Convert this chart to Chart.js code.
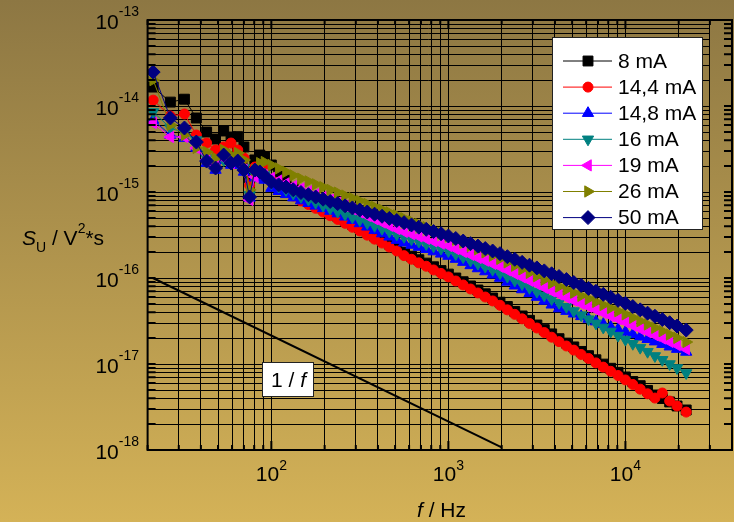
<!DOCTYPE html>
<html>
<head>
<meta charset="utf-8">
<script src="https://cdn.jsdelivr.net/npm/chart.js@4.4.1/dist/chart.umd.min.js"></script>
<style>
  html, body { margin: 0; padding: 0; overflow: hidden; }
  body { width: 734px; height: 522px; background: linear-gradient(to bottom, #8d7743 0%, #d4b257 100%); }
  #wrap { position: relative; width: 740px; height: 522px; }
</style>
</head>
<body>
<div id="wrap"><canvas id="c" width="740" height="522"></canvas></div>
<script>
// noise spectra S_U(f) for several bias currents
const freqHz = [21.5, 26.9, 32.3, 37.7, 43.1, 48.4, 53.8, 59.2, 64.6, 70.0, 75.4, 80.7, 86.1, 91.5,
  100, 110, 121, 133, 147, 162, 178, 196, 215, 237, 261, 287, 316, 348, 383, 422, 464, 511, 562, 619, 681, 750, 825, 909,
  1000, 1101, 1212, 1334, 1468, 1616, 1778, 1957, 2154, 2371, 2610, 2873, 3162, 3481, 3831, 4217, 4642, 5109, 5623, 6190, 6813, 7499, 8254, 9085,
  10000, 11010, 12120, 13340, 14680, 16160, 17780, 19570, 22050];

const s8mA = [1.66e-14, 1.11e-14, 1.2e-14, 7.25e-15, 4.98e-15, 4.13e-15, 5.12e-15, 4.36e-15, 4.4e-15, 3.34e-15, 1.46e-15, 2.36e-15, 2.69e-15, 2.55e-15,
  2.06e-15, 1.71e-15, 1.38e-15, 1.11e-15, 9.23e-16, 8.08e-16, 7.2e-16, 6.43e-16, 5.78e-16, 5.22e-16, 4.69e-16, 4.21e-16, 3.82e-16, 3.41e-16, 3.07e-16, 2.79e-16, 2.48e-16, 2.23e-16,
  1.99e-16, 1.79e-16, 1.63e-16, 1.49e-16, 1.35e-16, 1.22e-16, 1.11e-16, 1.0e-16, 9.05e-17, 8.08e-17, 7.25e-17, 6.55e-17, 5.85e-17, 5.23e-17, 4.66e-17, 4.09e-17,
  3.62e-17, 3.22e-17, 2.84e-17, 2.51e-17, 2.24e-17, 1.97e-17, 1.75e-17, 1.58e-17, 1.4e-17, 1.25e-17, 1.12e-17, 9.97e-18, 8.92e-18, 8.0e-18, 7.07e-18, 6.25e-18,
  5.6e-18, 4.93e-18, 4.36e-18, 3.97e-18, 3.62e-18, 3.25e-18, 2.92e-18];

const s14_4mA = [1.17e-14, 7.65e-15, 8.08e-15, 4.6e-15, 3.71e-15, 3.08e-15, 3.34e-15, 3.71e-15, 3.08e-15, 2.48e-15, 1.2e-15, 1.95e-15, 2.06e-15, 1.9e-15,
  1.38e-15, 1.17e-15, 1.01e-15, 8.99e-16, 7.88e-16, 7.14e-16, 6.46e-16, 5.85e-16, 5.3e-16, 4.8e-16, 4.32e-16, 3.89e-16, 3.52e-16, 3.15e-16, 2.83e-16, 2.55e-16, 2.29e-16, 2.06e-16,
  1.82e-16, 1.65e-16, 1.5e-16, 1.37e-16, 1.24e-16, 1.13e-16, 1.03e-16, 9.23e-17, 8.3e-17, 7.45e-17, 6.7e-17, 6.01e-17, 5.41e-17, 4.82e-17, 4.26e-17, 3.78e-17,
  3.35e-17, 2.96e-17, 2.62e-17, 2.32e-17, 2.05e-17, 1.82e-17, 1.62e-17, 1.45e-17, 1.29e-17, 1.16e-17, 1.03e-17, 9.2e-18, 8.23e-18, 7.35e-18, 6.53e-18, 5.78e-18,
  5.1e-18, 4.5e-18, 4.02e-18, 4.6e-18, 3.71e-18, 3.25e-18, 2.76e-18];

const s14_8mA = [6.87e-15, 4.6e-15, 4.24e-15, 3.25e-15, 2.17e-15, 1.8e-15, 2.36e-15, 2.06e-15, 2.06e-15, 1.71e-15, 8.52e-16, 1.46e-15, 1.54e-15, 1.38e-15,
  1.11e-15, 1.02e-15, 9.4e-16, 8.6e-16, 7.94e-16, 7.4e-16, 6.9e-16, 6.45e-16, 6.01e-16, 5.61e-16, 5.15e-16, 4.71e-16, 4.31e-16, 3.94e-16, 3.6e-16, 3.29e-16, 3.01e-16, 2.76e-16,
  2.57e-16, 2.42e-16, 2.29e-16, 2.16e-16, 2.03e-16, 1.91e-16, 1.8e-16, 1.66e-16, 1.53e-16, 1.4e-16, 1.29e-16, 1.19e-16, 1.09e-16, 1.0e-16, 9.0e-17, 8.13e-17,
  7.35e-17, 6.64e-17, 6.0e-17, 5.41e-17, 4.88e-17, 4.42e-17, 4.12e-17, 3.84e-17, 3.58e-17, 3.34e-17, 3.11e-17, 2.9e-17, 2.7e-17, 2.52e-17, 2.36e-17, 2.21e-17,
  2.07e-17, 1.94e-17, 1.82e-17, 1.7e-17, 1.59e-17, 1.49e-17, 1.38e-17];

const s16mA = [8.52e-15, 5.55e-15, 4.85e-15, 4.02e-15, 2.48e-15, 2.23e-15, 2.36e-15, 2.17e-15, 2.36e-15, 1.9e-15, 9.23e-16, 1.58e-15, 1.71e-15, 1.58e-15,
  1.27e-15, 1.16e-15, 1.06e-15, 9.6e-16, 8.82e-16, 8.16e-16, 7.53e-16, 6.94e-16, 6.43e-16, 5.93e-16, 5.5e-16, 5.1e-16, 4.72e-16, 4.37e-16, 4.05e-16, 3.75e-16, 3.48e-16, 3.22e-16,
  3.02e-16, 2.83e-16, 2.66e-16, 2.49e-16, 2.34e-16, 2.2e-16, 2.06e-16, 1.9e-16, 1.75e-16, 1.6e-16, 1.47e-16, 1.36e-16, 1.25e-16, 1.14e-16, 1.04e-16, 9.38e-17,
  8.5e-17, 7.69e-17, 6.96e-17, 6.29e-17, 5.7e-17, 5.16e-17, 4.63e-17, 4.13e-17, 3.7e-17, 3.32e-17, 2.97e-17, 2.66e-17, 2.39e-17, 2.14e-17, 1.92e-17, 1.72e-17,
  1.55e-17, 1.39e-17, 1.24e-17, 1.12e-17, 1.0e-17, 8.99e-18, 7.86e-18];

const s19mA = [6.34e-15, 4.36e-15, 4.36e-15, 3.25e-15, 2.36e-15, 2.06e-15, 2.48e-15, 2.17e-15, 2.23e-15, 1.8e-15, 8.08e-16, 1.5e-15, 1.66e-15, 1.58e-15,
  1.46e-15, 1.36e-15, 1.26e-15, 1.17e-15, 1.1e-15, 1.02e-15, 9.42e-16, 8.75e-16, 8.13e-16, 7.53e-16, 6.9e-16, 6.32e-16, 5.78e-16, 5.28e-16, 4.84e-16, 4.42e-16, 4.05e-16, 3.7e-16,
  3.44e-16, 3.23e-16, 3.04e-16, 2.85e-16, 2.67e-16, 2.51e-16, 2.36e-16, 2.17e-16, 2.01e-16, 1.86e-16, 1.71e-16, 1.59e-16, 1.46e-16, 1.35e-16, 1.23e-16, 1.12e-16,
  1.02e-16, 9.3e-17, 8.48e-17, 7.7e-17, 7.02e-17, 6.43e-17, 5.91e-17, 5.45e-17, 5.01e-17, 4.63e-17, 4.26e-17, 3.92e-17, 3.6e-17, 3.32e-17, 3.06e-17, 2.8e-17,
  2.56e-17, 2.35e-17, 2.16e-17, 1.98e-17, 1.81e-17, 1.66e-17, 1.49e-17];

const s26mA = [2.0e-14, 6.01e-15, 4.6e-15, 3.25e-15, 2.92e-15, 2.48e-15, 3.08e-15, 2.69e-15, 2.84e-15, 2.36e-15, 1.06e-15, 1.8e-15, 2.17e-15, 2.23e-15,
  2.06e-15, 1.88e-15, 1.71e-15, 1.56e-15, 1.43e-15, 1.33e-15, 1.23e-15, 1.14e-15, 1.06e-15, 9.84e-16, 9.1e-16, 8.48e-16, 7.86e-16, 7.27e-16, 6.74e-16, 6.23e-16, 5.79e-16, 5.36e-16,
  4.95e-16, 4.58e-16, 4.22e-16, 3.9e-16, 3.6e-16, 3.34e-16, 3.08e-16, 2.82e-16, 2.59e-16, 2.37e-16, 2.17e-16, 1.99e-16, 1.82e-16, 1.67e-16, 1.52e-16, 1.39e-16,
  1.26e-16, 1.15e-16, 1.05e-16, 9.54e-17, 8.7e-17, 7.95e-17, 7.33e-17, 6.74e-17, 6.2e-17, 5.72e-17, 5.27e-17, 4.85e-17, 4.47e-17, 4.11e-17, 3.78e-17, 3.45e-17,
  3.15e-17, 2.88e-17, 2.63e-17, 2.41e-17, 2.2e-17, 2.01e-17, 1.8e-17];

const s50mA = [2.48e-14, 7.25e-15, 5.55e-15, 3.81e-15, 2.29e-15, 1.9e-15, 2.69e-15, 2.17e-15, 2.29e-15, 1.8e-15, 8.75e-16, 1.8e-15, 1.71e-15, 1.54e-15,
  1.31e-15, 1.21e-15, 1.14e-15, 1.06e-15, 9.87e-16, 9.3e-16, 8.75e-16, 8.25e-16, 7.77e-16, 7.33e-16, 6.9e-16, 6.53e-16, 6.17e-16, 5.85e-16, 5.52e-16, 5.22e-16, 4.93e-16, 4.66e-16,
  4.4e-16, 4.14e-16, 3.9e-16, 3.68e-16, 3.47e-16, 3.27e-16, 3.08e-16, 2.88e-16, 2.69e-16, 2.51e-16, 2.35e-16, 2.2e-16, 2.06e-16, 1.92e-16, 1.77e-16, 1.65e-16,
  1.52e-16, 1.41e-16, 1.31e-16, 1.21e-16, 1.12e-16, 1.04e-16, 9.6e-17, 8.87e-17, 8.2e-17, 7.57e-17, 7.0e-17, 6.46e-17, 5.96e-17, 5.5e-17, 5.08e-17, 4.66e-17,
  4.26e-17, 3.9e-17, 3.59e-17, 3.29e-17, 3.02e-17, 2.76e-17, 2.48e-17];

const seriesLabels = ['8 mA', '14,4 mA', '14,8 mA', '16 mA', '19 mA', '26 mA', '50 mA'];
const seriesValues = [s8mA, s14_4mA, s14_8mA, s16mA, s19mA, s26mA, s50mA];
const seriesColors = ['#000000', '#ff0000', '#0000ff', '#008080', '#ff00ff', '#808000', '#000080'];
const seriesMarkers = [
  { style: 'rect', rot: 0, r: 7 },
  { style: 'circle', rot: 0, r: 5 },
  { style: 'triangle', rot: 0, r: 6.5 },
  { style: 'triangle', rot: 180, r: 6.5 },
  { style: 'triangle', rot: 270, r: 6.5 },
  { style: 'triangle', rot: 90, r: 6.5 },
  { style: 'rectRot', rot: 0, r: 7 }
];

// 1/f reference line
const refHz = [21.4, 2000];
const refVal = [1.0e-16, 1.07e-18];

const xLabelDecades = [100, 1000, 10000];
const xLabelExp = ['2', '3', '4'];
const yLabelDecades = [1e-13, 1e-14, 1e-15, 1e-16, 1e-17, 1e-18];
const yLabelExp = ['-13', '-14', '-15', '-16', '-17', '-18'];

const xGrid = [];
[10, 100, 1000, 10000].forEach(d => { for (let m = 1; m < 10; m++) if (m * d >= 20 && m * d <= 30000) xGrid.push(m * d); });
const yGrid = [];
for (let e = -18; e < -13; e++) for (let m = 1; m < 10; m++) yGrid.push(m * Math.pow(10, e));
yGrid.push(1e-13);

const FONT = '"Liberation Sans", Arial, sans-serif';
const isDecade = v => Math.abs(Math.log10(v) - Math.round(Math.log10(v))) < 1e-9;

function marker(ctx, m, color, x, y) {
  ctx.fillStyle = color;
  ctx.strokeStyle = color;
  ctx.lineWidth = 1;
  Chart.helpers.drawPoint(ctx, { pointStyle: m.style, rotation: m.rot, radius: m.r, borderWidth: 1 }, x, y);
}

const decor = {
  id: 'decor',
  beforeDatasetsDraw(chart) {
    const { ctx, chartArea: a, scales: { x, y } } = chart;
    const gridEnd = x.getPixelForValue(30000);
    ctx.save();
    ctx.strokeStyle = '#000';
    ctx.lineWidth = 1;
    y.ticks.forEach(t => {
      const py = Math.round(y.getPixelForValue(t.value)) + 0.5;
      ctx.beginPath();
      ctx.moveTo(a.left, py); ctx.lineTo(gridEnd, py);
      ctx.stroke();
    });
    ctx.restore();
  },
  afterDraw(chart) {
    const { ctx, chartArea: a, scales: { x, y } } = chart;
    ctx.save();

    // frame and inward ticks
    ctx.strokeStyle = '#000';
    ctx.lineWidth = 2;
    ctx.strokeRect(a.left, a.top, a.right - a.left, a.bottom - a.top);
    ctx.beginPath();
    x.ticks.forEach(t => {
      const px = x.getPixelForValue(t.value);
      const len = isDecade(t.value) ? 9 : 5;
      ctx.moveTo(px, a.bottom); ctx.lineTo(px, a.bottom - len);
      ctx.moveTo(px, a.top); ctx.lineTo(px, a.top + len);
    });
    y.ticks.forEach(t => {
      const py = y.getPixelForValue(t.value);
      ctx.moveTo(a.left, py); ctx.lineTo(a.left + 8, py);
      ctx.moveTo(a.right, py); ctx.lineTo(a.right - 8, py);
    });
    ctx.stroke();

    // tick labels 10^n
    ctx.fillStyle = '#000';
    ctx.textBaseline = 'alphabetic';
    ctx.textAlign = 'left';
    xLabelDecades.forEach((v, i) => {
      const px = x.getPixelForValue(v);
      ctx.font = '21px ' + FONT;
      const w1 = ctx.measureText('10').width;
      ctx.font = '14px ' + FONT;
      const w2 = ctx.measureText(xLabelExp[i]).width;
      const x0 = px - (w1 + w2) / 2;
      ctx.font = '21px ' + FONT;
      ctx.fillText('10', x0, a.bottom + 31);
      ctx.font = '14px ' + FONT;
      ctx.fillText(xLabelExp[i], x0 + w1, a.bottom + 19.5);
    });
    yLabelDecades.forEach((v, i) => {
      const py = y.getPixelForValue(v);
      ctx.font = '14px ' + FONT;
      const w2 = ctx.measureText(yLabelExp[i]).width;
      ctx.fillText(yLabelExp[i], 139 - w2, py - 4);
      ctx.font = '21px ' + FONT;
      const w1 = ctx.measureText('10').width;
      ctx.fillText('10', 139 - w2 - w1, py + 8.5);
    });

    // axis titles
    let cx = 22;
    ctx.font = 'italic 21px ' + FONT;
    ctx.fillText('S', cx, 245); cx += ctx.measureText('S').width;
    ctx.font = '14px ' + FONT;
    ctx.fillText('U', cx, 252); cx += ctx.measureText('U').width;
    ctx.font = '21px ' + FONT;
    ctx.fillText(' / V', cx, 245); cx += ctx.measureText(' / V').width;
    ctx.font = '14px ' + FONT;
    ctx.fillText('2', cx, 233); cx += ctx.measureText('2').width;
    ctx.font = '21px ' + FONT;
    ctx.fillText('*s', cx, 245);

    cx = 417;
    ctx.font = 'italic 21px ' + FONT;
    ctx.fillText('f', cx, 517); cx += ctx.measureText('f').width;
    ctx.font = '21px ' + FONT;
    ctx.fillText(' / Hz', cx, 517);

    // 1/f label
    ctx.fillStyle = '#fff';
    ctx.fillRect(262.5, 362.5, 51, 34);
    ctx.strokeStyle = '#222';
    ctx.lineWidth = 1;
    ctx.strokeRect(262.5, 362.5, 51, 34);
    ctx.fillStyle = '#000';
    ctx.font = '21px ' + FONT;
    ctx.fillText('1 / ', 271, 387);
    const wl = ctx.measureText('1 / ').width;
    ctx.font = 'italic 21px ' + FONT;
    ctx.fillText('f', 271 + wl, 387);

    // legend
    ctx.fillStyle = '#fff';
    ctx.fillRect(552.5, 37.5, 150, 192);
    ctx.strokeStyle = '#222';
    ctx.strokeRect(552.5, 37.5, 150, 192);
    seriesLabels.forEach((lab, i) => {
      const ly = 61 + i * 26.1;
      ctx.strokeStyle = seriesColors[i];
      ctx.lineWidth = 1;
      ctx.beginPath();
      ctx.moveTo(563, ly); ctx.lineTo(612, ly);
      ctx.stroke();
      marker(ctx, seriesMarkers[i], seriesColors[i], 588, ly);
      ctx.fillStyle = '#000';
      ctx.font = '21px ' + FONT;
      ctx.textBaseline = 'middle';
      ctx.fillText(lab, 618, ly + 1);
      ctx.textBaseline = 'alphabetic';
    });
    ctx.restore();
  }
};

const datasets = seriesValues.map((vals, i) => ({
  label: seriesLabels[i],
  data: freqHz.map((f, j) => ({ x: f, y: vals[j] })),
  showLine: true,
  borderColor: seriesColors[i],
  backgroundColor: seriesColors[i],
  borderWidth: 1,
  pointStyle: seriesMarkers[i].style,
  pointRotation: seriesMarkers[i].rot,
  pointRadius: seriesMarkers[i].r,
  pointBorderWidth: 1,
  order: 7 - i
}));
datasets.push({
  label: '1 / f',
  data: refHz.map((f, j) => ({ x: f, y: refVal[j] })),
  showLine: true,
  borderColor: '#000',
  borderWidth: 2,
  pointRadius: 0,
  order: 10
});

new Chart(document.getElementById('c'), {
  type: 'scatter',
  data: { datasets },
  options: {
    responsive: false,
    animation: false,
    layout: { padding: { left: 147.6, right: 4.8, top: 20, bottom: 72 } },
    plugins: { legend: { display: false }, tooltip: { enabled: false } },
    scales: {
      x: {
        type: 'logarithmic', min: 20, max: 40000,
        afterBuildTicks: s => { s.ticks = xGrid.map(v => ({ value: v })); },
        ticks: { display: false },
        grid: { color: '#000', lineWidth: 1, drawTicks: false },
        border: { display: false }
      },
      y: {
        type: 'logarithmic', min: 1e-18, max: 1e-13,
        afterBuildTicks: s => { s.ticks = yGrid.map(v => ({ value: v })); },
        ticks: { display: false },
        grid: { display: false, drawTicks: false },
        border: { display: false }
      }
    }
  },
  plugins: [decor]
});
</script>
</body>
</html>
